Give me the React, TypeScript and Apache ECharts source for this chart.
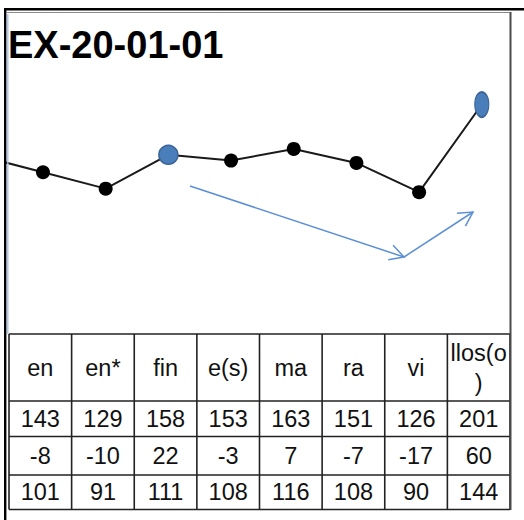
import React, { useEffect, useRef } from "react";
import * as echarts from "echarts";

// ---- data ----
const categories = ["en", "en*", "fin", "e(s)", "ma", "ra", "vi", "llos(o)"];
const row1 = [143, 129, 158, 153, 163, 151, 126, 201];
const row2 = [-8, -10, 22, -3, 7, -7, -17, 60];
const row3 = [101, 91, 111, 108, 116, 108, 90, 144];
const prevValue = 157; // point just left of the visible area (clipped)
const highlightIndex = 2; // blue round marker
const ellipseIndex = 7; // blue oval marker
const titleText = "EX-20-01-01";

const FONT = "'Liberation Sans', Arial, sans-serif";

export default function App() {
  const ref = useRef<HTMLDivElement>(null);

  useEffect(() => {
    if (!ref.current) return;
    const chart = echarts.init(ref.current, undefined, { renderer: "svg" });

    const lineData: any[] = [
      { value: [-1, prevValue], symbol: "none" },
      ...row1.map((v, i) => {
        if (i === highlightIndex) {
          return {
            value: [i, v],
            symbolSize: 19,
            itemStyle: { color: "#4a7ebb", borderColor: "#3a6497", borderWidth: 1.5 },
          };
        }
        if (i === ellipseIndex) {
          return {
            value: [i, v],
            symbolSize: [14, 25],
            itemStyle: { color: "#4a7ebb", borderColor: "#3a6497", borderWidth: 1.5 },
          };
        }
        return { value: [i, v] };
      }),
    ];

    // ---- table layout ----
    const tLeft = 9;
    const tRight = 510;
    const colW = (tRight - tLeft) / categories.length;
    const rowLines = [334, 401, 436.5, 475, 509.5];
    const tableStroke = { stroke: "#222", lineWidth: 1.6 };
    const graphics: any[] = [];

    rowLines.forEach((y) => {
      graphics.push({
        type: "line",
        shape: { x1: tLeft, y1: y, x2: tRight, y2: y },
        style: tableStroke,
        z: 10,
      });
    });
    for (let i = 0; i <= categories.length; i++) {
      const x = tLeft + colW * i;
      graphics.push({
        type: "line",
        shape: { x1: x, y1: rowLines[0], x2: x, y2: rowLines[rowLines.length - 1] },
        style: tableStroke,
        z: 10,
      });
    }
    const textStyle = {
      fontFamily: FONT,
      fontSize: 23.5,
      fill: "#111",
      align: "center",
      verticalAlign: "middle",
    };
    categories.forEach((c, i) => {
      const cx = tLeft + colW * (i + 0.5);
      graphics.push({
        type: "text",
        x: cx,
        y: (rowLines[0] + rowLines[1]) / 2,
        style: {
          ...textStyle,
          text: c,
          width: 60,
          overflow: "breakAll",
          lineHeight: 30,
        },
        z: 11,
      });
      [row1, row2, row3].forEach((row, r) => {
        graphics.push({
          type: "text",
          x: cx,
          y: (rowLines[r + 1] + rowLines[r + 2]) / 2,
          style: { ...textStyle, text: String(row[i]) },
          z: 11,
        });
      });
    });

    // ---- frame ----
    graphics.push(
      { type: "rect", shape: { x: 4, y: 8, width: 520, height: 2.4 }, style: { fill: "#000" }, z: 12 },
      { type: "rect", shape: { x: 4, y: 8, width: 2.4, height: 512 }, style: { fill: "#000" }, z: 12 },
      { type: "line", shape: { x1: 6, y1: 12.5, x2: 511, y2: 12.5 }, style: { stroke: "#8a8a8a", lineWidth: 1 }, z: 12 },
      { type: "line", shape: { x1: 510.5, y1: 12, x2: 510.5, y2: 510 }, style: { stroke: "#4a4a4a", lineWidth: 2 }, z: 12 },
      { type: "line", shape: { x1: 7.8, y1: 14, x2: 7.8, y2: 334 }, style: { stroke: "#a9c3e6", lineWidth: 1.4 }, z: 12 }
    );

    // ---- annotation arrows ----
    const arrowStyle = { stroke: "#5b8fd6", lineWidth: 1.5, fill: null };
    const arrow = (x1: number, y1: number, x2: number, y2: number) => {
      const ang = Math.atan2(y2 - y1, x2 - x1);
      const len = 16;
      const a1 = ang + Math.PI - 0.5;
      const a2 = ang + Math.PI + 0.5;
      graphics.push({
        type: "line",
        shape: { x1, y1, x2, y2 },
        style: arrowStyle,
        z: 9,
      });
      graphics.push({
        type: "polyline",
        shape: {
          points: [
            [x2 + len * Math.cos(a1), y2 + len * Math.sin(a1)],
            [x2, y2],
            [x2 + len * Math.cos(a2), y2 + len * Math.sin(a2)],
          ],
        },
        style: arrowStyle,
        z: 9,
      });
    };
    arrow(190, 186, 404, 257);
    arrow(404, 257, 473, 212);

    chart.setOption({
      animation: false,
      title: {
        text: titleText,
        left: 8,
        top: 26,
        padding: 0,
        textStyle: { fontFamily: FONT, fontWeight: "bold", fontSize: 38, color: "#000" },
      },
      grid: { left: 7, right: 14, top: 47.3, bottom: 180.7, show: false },
      xAxis: {
        type: "value",
        min: -0.574,
        max: 7.45,
        show: false,
      },
      yAxis: {
        type: "value",
        min: 0,
        max: 250,
        show: false,
      },
      series: [
        {
          type: "line",
          data: lineData,
          clip: true,
          symbol: "circle",
          symbolSize: 14,
          itemStyle: { color: "#000" },
          lineStyle: { color: "#1a1a1a", width: 2 },
          z: 5,
        },
      ],
      graphic: graphics,
    });

    return () => chart.dispose();
  }, []);

  return (
    <div
      ref={ref}
      style={{ position: "absolute", left: 0, top: 0, width: 524, height: 520, background: "#fff" }}
    />
  );
}
